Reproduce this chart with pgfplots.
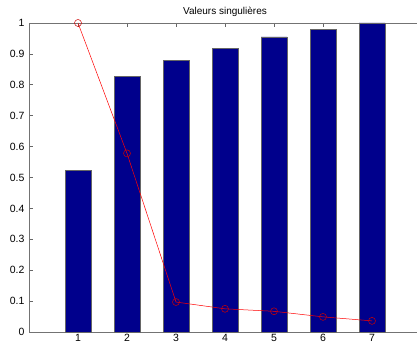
\documentclass[border=0pt]{standalone}
\usepackage{pgfplots}
\pgfplotsset{compat=1.18}
\usepackage{fontspec}
\setmainfont{Liberation Sans}
\definecolor{barblue}{RGB}{0,0,140}
\begin{document}
\begin{tikzpicture}
\begin{axis}[
  name=ax,
  scale only axis,
  width=392pt, height=309pt,
  xmin=0, xmax=8, ymin=0, ymax=1,
  xtick={1,2,3,4,5,6,7},
  ytick={0,0.1,0.2,0.3,0.4,0.5,0.6,0.7,0.8,0.9,1},
  yticklabels={0,0.1,0.2,0.3,0.4,0.5,0.6,0.7,0.8,0.9,1},
  xticklabels={1,2,3,4,5,6,7},
  tick align=inside,
  major tick length=4pt,
  tick style={black!60, line width=0.6pt},
  axis line style={black!55, line width=0.8pt},
  tick label style={font=\fontsize{10.5}{12}\selectfont},
  title={Valeurs singulières},
  title style={font=\fontsize{10}{12}\selectfont, yshift=-3pt},
  xticklabel style={yshift=1pt},
  yticklabel style={xshift=-1pt},
  clip=false,
]
\addplot[ybar, bar width=26pt, fill=barblue, draw=black!60, line width=0.5pt] coordinates {
 (1,0.524) (2,0.828) (3,0.880) (4,0.919) (5,0.955) (6,0.980) (7,1.000)};
\addplot[red, line width=0.5pt, mark=o, mark size=3.5pt, mark options={red!80!black}] coordinates {
 (1,1.0) (2,0.578) (3,0.097) (4,0.075) (5,0.067) (6,0.049) (7,0.036)};
\end{axis}
\pgfresetboundingbox
\path[use as bounding box] ([shift={(-29pt,-12pt)}]ax.south west) rectangle ([shift={(-4pt,23pt)}]ax.north east);
\end{tikzpicture}
\end{document}
